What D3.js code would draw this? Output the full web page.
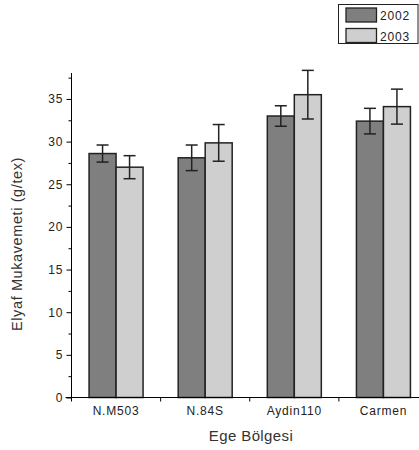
<!DOCTYPE html>
<html>
<head>
<meta charset="utf-8">
<script src="https://cdn.jsdelivr.net/npm/d3@7/dist/d3.min.js"></script>
<style>
  html, body { margin: 0; padding: 0; background: #fff; }
  svg { display: block; font-family: "Liberation Sans", Arial, sans-serif; }
</style>
</head>
<body>
<svg id="chart" width="419" height="450"></svg>
<script>
// Fibre strength by cultivar, Aegean region, two seasons
const categories = ["N.M503", "N.84S", "Aydin110", "Carmen"];
const seriesNames = ["2002", "2003"];
const values2002 = [28.6, 28.1, 33.0, 32.4];
const values2003 = [27.0, 29.85, 35.5, 34.1];
const errors2002 = [1.0, 1.5, 1.2, 1.5];
const errors2003 = [1.35, 2.15, 2.85, 2.05];
const yTicks = [0, 5, 10, 15, 20, 25, 30, 35];
const yMinorTicks = [2.5, 7.5, 12.5, 17.5, 22.5, 27.5, 32.5, 37.5];
const fills = ["#7f7f7f", "#cfcfcf"];

const svg = d3.select("#chart");
const plotLeft = 71.5, plotBottom = 397.5, plotTop = 73, plotRight = 428;

const x = d3.scaleBand().domain(categories).range([plotLeft, plotRight]).padding(0);
const y = d3.scaleLinear().domain([0, 38]).range([plotBottom, plotBottom - 38 * 8.53]);
const barW = 27;

const series = [
  { name: seriesNames[0], values: values2002, errors: errors2002, fill: fills[0] },
  { name: seriesNames[1], values: values2003, errors: errors2003, fill: fills[1] }
];

// Bars
series.forEach((s, si) => {
  const g = svg.append("g");
  g.selectAll("rect").data(categories).join("rect")
    .attr("x", (c) => x(c) + x.bandwidth() / 2 - barW + si * barW)
    .attr("y", (c, i) => y(s.values[i]))
    .attr("width", barW)
    .attr("height", (c, i) => y(0) - y(s.values[i]))
    .attr("fill", s.fill)
    .attr("stroke", "#222")
    .attr("stroke-width", 1.5);
});

// Error bars
series.forEach((s, si) => {
  const g = svg.append("g").attr("stroke", "#222").attr("stroke-width", 1.5).attr("fill", "none");
  categories.forEach((c, i) => {
    const cx = x(c) + x.bandwidth() / 2 - barW / 2 + si * barW;
    const hi = y(s.values[i] + s.errors[i]);
    const lo = y(s.values[i] - s.errors[i]);
    g.append("line").attr("x1", cx).attr("x2", cx).attr("y1", hi).attr("y2", lo);
    g.append("line").attr("x1", cx - 6).attr("x2", cx + 6).attr("y1", hi).attr("y2", hi);
    g.append("line").attr("x1", cx - 6).attr("x2", cx + 6).attr("y1", lo).attr("y2", lo);
  });
});

// Y axis
const yAxis = d3.axisLeft(y).tickValues(yTicks).tickSize(5).tickPadding(3).tickFormat(d3.format("d"));
const gy = svg.append("g").attr("transform", `translate(${plotLeft},0)`).call(yAxis);
gy.select(".domain").attr("d", `M0,${plotTop}V${plotBottom}`).attr("stroke", "#000");
gy.selectAll("text").attr("font-size", 12).attr("letter-spacing", 1).attr("fill", "#222");
const yMinor = d3.axisLeft(y).tickValues(yMinorTicks).tickSize(3).tickFormat("");
const gym = svg.append("g").attr("transform", `translate(${plotLeft},0)`).call(yMinor);
gym.select(".domain").remove();

// X axis: ticks at band boundaries, labels at band centres
const gx = svg.append("g").attr("transform", `translate(0,${plotBottom})`);
gx.append("line").attr("x1", plotLeft - 6).attr("x2", plotRight).attr("stroke", "#000");
gx.selectAll("line.tick").data(categories).join("line").attr("class", "tick")
  .attr("x1", (c) => x(c)).attr("x2", (c) => x(c)).attr("y1", 0).attr("y2", 4).attr("stroke", "#000");
gx.selectAll("text").data(categories).join("text")
  .attr("x", (c) => x(c) + x.bandwidth() / 2)
  .attr("y", 17)
  .attr("text-anchor", "middle")
  .attr("font-size", 12)
  .attr("letter-spacing", 0.8)
  .attr("fill", "#222")
  .text((c) => c);

// Axis titles
svg.append("text")
  .attr("transform", "translate(22,244) rotate(-90)")
  .attr("text-anchor", "middle")
  .attr("font-size", 14.5)
  .attr("letter-spacing", 0.6)
  .attr("fill", "#333")
  .text("Elyaf Mukavemeti (g/tex)");
svg.append("text")
  .attr("x", 251).attr("y", 441)
  .attr("text-anchor", "middle")
  .attr("font-size", 15)
  .attr("letter-spacing", 0.4)
  .attr("fill", "#333")
  .text("Ege Bölgesi");

// Legend
const lg = svg.append("g");
lg.append("rect").attr("x", 338.5).attr("y", 4.5).attr("width", 79.5).attr("height", 39)
  .attr("fill", "#fff").attr("stroke", "#222").attr("stroke-width", 1);
series.forEach((s, i) => {
  lg.append("rect").attr("x", 346).attr("y", 8 + i * 20.5).attr("width", 30.5).attr("height", 14)
    .attr("fill", s.fill).attr("stroke", "#222").attr("stroke-width", 1.3);
  lg.append("text").attr("x", 380).attr("y", 20 + i * 20.5)
    .attr("font-size", 12).attr("letter-spacing", 0.8).attr("fill", "#222").text(s.name);
});
</script>
</body>
</html>
